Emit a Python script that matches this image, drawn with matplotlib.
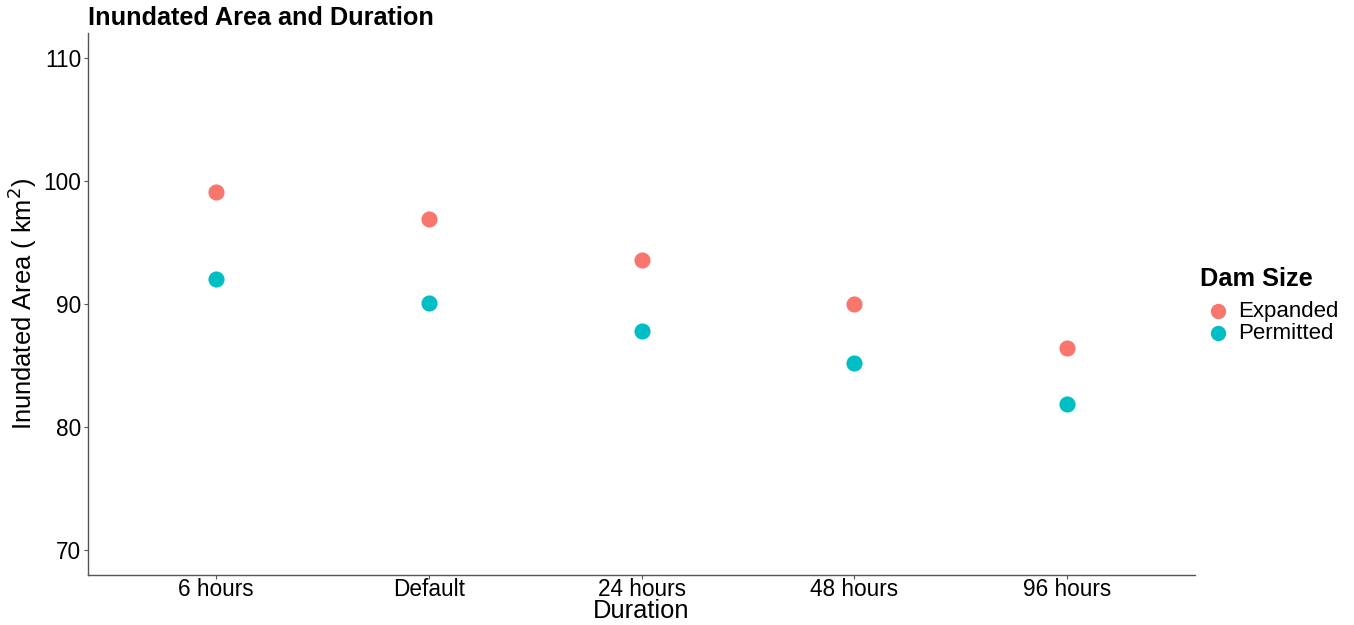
import matplotlib
matplotlib.use("Agg")
import matplotlib.pyplot as plt
import numpy as np

plt.rcParams['font.family'] = ['Liberation Sans', 'DejaVu Sans']

categories = ["6 hours", "Default", "24 hours", "48 hours", "96 hours"]
expanded = [99.1, 96.9, 93.6, 90.0, 86.4]
permitted = [92.0, 90.1, 87.8, 85.2, 81.9]
series_names = ["Expanded", "Permitted"]
colors = ["#F8766D", "#00BFC4"]
yticks = [70, 80, 90, 100, 110]

W, H = 1354, 625
fig = plt.figure(figsize=(W / 100, H / 100), dpi=100)
ax = fig.add_axes([88 / W, 1 - 575 / H, (1195 - 88) / W, (575 - 33) / H])

x = np.arange(1, len(categories) + 1)
for vals, name, c in zip([expanded, permitted], series_names, colors):
    ax.scatter(x, vals, s=135, color=c, label=name, linewidths=0, zorder=3)

ax.set_xlim(0.4, 5.6)
ax.set_ylim(68, 112)
ax.set_xticks(x)
ax.set_xticklabels(categories)
ax.set_yticks(yticks)
ax.tick_params(axis='both', labelsize=16.3, color='#555555', length=3, width=0.8,
               labelcolor='black')
ax.tick_params(axis='x', pad=-1)
ax.tick_params(axis='y', pad=2)
for s in ['top', 'right']:
    ax.spines[s].set_visible(False)
for s in ['left', 'bottom']:
    ax.spines[s].set_color('#555555')
    ax.spines[s].set_linewidth(1.0)

ax.set_xlabel("Duration", fontsize=18.4, labelpad=-1)
ax.set_ylabel("Inundated Area ( km$^2$)", fontsize=18.4, labelpad=3)
ax.set_title("Inundated Area and Duration", fontsize=18.2, fontweight='bold', loc='left', pad=6)

fig.text(1200 / W, 1 - 279 / H, "Dam Size", fontsize=18.3, fontweight='bold', va='center', ha='left')
leg = ax.legend(loc='upper left', bbox_to_anchor=(1205 / W, 1 - 301 / H),
                bbox_transform=fig.transFigure, frameon=False,
                fontsize=16, handletextpad=0.3, handlelength=1.2, labelspacing=0.05,
                borderaxespad=0, borderpad=0, markerscale=0.95)

fig.savefig("out.png", dpi=100)
